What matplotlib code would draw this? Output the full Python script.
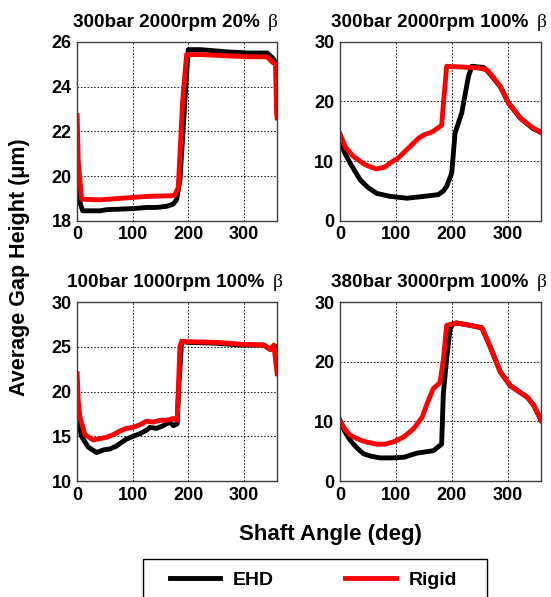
import numpy as np
import matplotlib
matplotlib.use('Agg')
import matplotlib.pyplot as plt
from matplotlib.patches import Rectangle

plt.rcParams['font.family'] = ['Liberation Sans', 'DejaVu Sans']
plt.rcParams['font.weight'] = 'bold'
plt.rcParams['font.size'] = 11

# Panel titles
Titles = ['300bar 2000rpm 20%', '300bar 2000rpm 100%', '100bar 1000rpm 100%', '380bar 3000rpm 100%']

# Panel 1 - 300bar 2000rpm 20%
p1_ehd_x = [0, 4, 10, 41, 53, 101, 125, 143, 161, 173, 179, 185, 194, 200, 222, 270, 306, 342, 351, 359]
p1_ehd_y = [19.8, 18.9, 18.45, 18.45, 18.5, 18.55, 18.6, 18.6, 18.65, 18.75, 18.95, 19.8, 23.4, 25.65, 25.65, 25.55, 25.5, 25.5, 25.3, 25.05]
p1_rig_x = [0, 2, 8, 41, 101, 131, 167, 176, 182, 190, 197, 222, 282, 306, 342, 351, 357, 359, 360]
p1_rig_y = [22.7, 20.7, 18.97, 18.94, 19.05, 19.1, 19.12, 19.15, 19.5, 23.4, 25.43, 25.43, 25.36, 25.33, 25.33, 25.1, 25.0, 22.8, 22.6]

# Panel 2 - 300bar 2000rpm 100%
p2_ehd_x = [0, 8, 18, 36, 50, 66, 90, 120, 150, 176, 185, 191, 200, 206, 218, 230, 236, 257, 265, 287, 302, 323, 345, 360]
p2_ehd_y = [13.6, 11.5, 9.7, 6.9, 5.6, 4.6, 4.1, 3.8, 4.1, 4.4, 5.0, 5.8, 8.0, 14.7, 18.1, 24.2, 25.9, 25.7, 25.0, 22.5, 19.7, 17.2, 15.5, 14.8]
p2_rig_x = [0, 10, 24, 45, 65, 80, 90, 105, 126, 140, 150, 165, 176, 182, 186, 191, 233, 250, 263, 275, 287, 302, 323, 345, 360]
p2_rig_y = [14.6, 12.3, 10.8, 9.4, 8.7, 9.0, 9.7, 10.6, 12.5, 13.8, 14.4, 14.9, 15.6, 16.0, 20.5, 25.9, 25.7, 25.6, 25.3, 24.0, 22.5, 19.7, 17.2, 15.6, 14.8]

# Panel 3 - 100bar 1000rpm 100%
p3_ehd_x = [0, 3, 8, 20, 35, 48, 59, 70, 77, 89, 100, 113, 125, 131, 143, 155, 167, 173, 180, 183, 188, 200, 252, 294, 336, 348, 354, 360]
p3_ehd_y = [17.9, 16.2, 15.0, 13.8, 13.2, 13.5, 13.6, 13.9, 14.2, 14.7, 15.0, 15.3, 15.7, 16.0, 15.9, 16.2, 16.6, 16.2, 16.4, 20.5, 25.6, 25.5, 25.4, 25.2, 25.2, 24.7, 25.1, 25.0]
p3_rig_x = [0, 2, 5, 14, 29, 53, 65, 77, 89, 100, 113, 125, 137, 149, 161, 173, 180, 185, 188, 252, 294, 336, 348, 354, 360]
p3_rig_y = [22.0, 19.0, 17.2, 15.2, 14.6, 14.9, 15.2, 15.6, 15.9, 16.0, 16.3, 16.7, 16.6, 16.8, 16.8, 17.0, 16.8, 25.0, 25.6, 25.5, 25.3, 25.2, 24.7, 25.2, 22.0]

# Panel 4 - 380bar 3000rpm 100%
p4_ehd_x = [0, 8, 18, 30, 42, 55, 72, 95, 114, 138, 167, 182, 185, 191, 197, 203, 209, 233, 254, 269, 287, 305, 335, 347, 360]
p4_ehd_y = [10.2, 8.4, 6.9, 5.6, 4.6, 4.2, 3.9, 3.9, 4.0, 4.7, 5.1, 6.2, 14.6, 20.5, 25.5, 26.4, 26.5, 26.1, 25.7, 22.5, 18.3, 16.0, 14.1, 12.7, 10.2]
p4_rig_x = [0, 8, 18, 36, 50, 66, 81, 96, 114, 132, 147, 156, 167, 179, 185, 191, 209, 233, 254, 269, 287, 305, 320, 335, 347, 360]
p4_rig_y = [10.2, 8.8, 7.7, 6.9, 6.5, 6.2, 6.2, 6.6, 7.4, 8.8, 10.7, 13.0, 15.5, 16.5, 20.3, 26.1, 26.5, 26.1, 25.7, 22.5, 18.3, 16.0, 15.0, 14.1, 12.7, 10.2]

EHD = [(p1_ehd_x, p1_ehd_y), (p2_ehd_x, p2_ehd_y), (p3_ehd_x, p3_ehd_y), (p4_ehd_x, p4_ehd_y)]
Rigid = [(p1_rig_x, p1_rig_y), (p2_rig_x, p2_rig_y), (p3_rig_x, p3_rig_y), (p4_rig_x, p4_rig_y)]
YLims = [(18, 26), (0, 30), (10, 30), (0, 30)]
YTicks = [[18, 20, 22, 24, 26], [0, 10, 20, 30], [10, 15, 20, 25, 30], [0, 10, 20, 30]]
XTicks = [0, 100, 200, 300]

# axes boxes [left, bottom, width, height]
Boxes = [[0.140, 0.630, 0.363, 0.300],
         [0.617, 0.630, 0.365, 0.300],
         [0.140, 0.194, 0.363, 0.300],
         [0.617, 0.194, 0.365, 0.300]]

fig = plt.figure(figsize=(5.51, 5.97), dpi=100)

for i in range(4):
    ax = fig.add_axes(Boxes[i])
    ax.plot(EHD[i][0], EHD[i][1], color='black', lw=3.5, solid_joinstyle='round')
    ax.plot(Rigid[i][0], Rigid[i][1], color='red', lw=3.5, solid_joinstyle='round')
    ax.set_xlim(0, 360)
    ax.set_ylim(*YLims[i])
    ax.set_xticks(XTicks)
    ax.set_yticks(YTicks[i])
    ax.grid(True, color='black', linestyle=(0, (2, 2)), linewidth=0.6)
    ax.tick_params(direction='in', length=0, labelsize=13, pad=4)
    for s in ax.spines.values():
        s.set_color('#404040')
        s.set_linewidth(1.0)
    # title text + beta centered together over the axes
    t = ax.annotate(Titles[i], xy=(0.5, 1.0), xycoords='axes fraction', xytext=(-8, 10.5),
                    textcoords='offset points', ha='center', va='baseline',
                    fontsize=13.6, fontweight='bold')
    ax.annotate('\u03b2', xy=(1.0, 0.0), xycoords=t, xytext=(6, 0), textcoords='offset points',
                ha='left', va='bottom', fontsize=14, fontweight='normal', family='Liberation Serif')

fig.text(0.035, 0.553, 'Average Gap Height (\u03bcm)', rotation=90, ha='center', va='center', fontsize=15.5)
fig.text(0.600, 0.104, 'Shaft Angle (deg)', ha='center', va='center', fontsize=16)

# legend box, running off the bottom edge as in the original
fig.patches.append(Rectangle((143 / 551, -0.05), 344 / 551, 0.05 + 1 - 559 / 597, transform=fig.transFigure,
                             facecolor='white', edgecolor='black', linewidth=1.0, clip_on=False))
h1, = plt.plot([], [], color='black', lw=3.5)
h2, = plt.plot([], [], color='red', lw=3.5)
leg = fig.legend([h1, h2], ['EHD', 'Rigid'], loc='center left',
                 bbox_to_anchor=(170 / 551, 1 - 580 / 597), ncol=2, borderaxespad=0.0, borderpad=0.0,
                 fontsize=14, handlelength=2.58, handletextpad=0.67, columnspacing=3.66,
                 frameon=False)

plt.savefig('out.png', dpi=100)
